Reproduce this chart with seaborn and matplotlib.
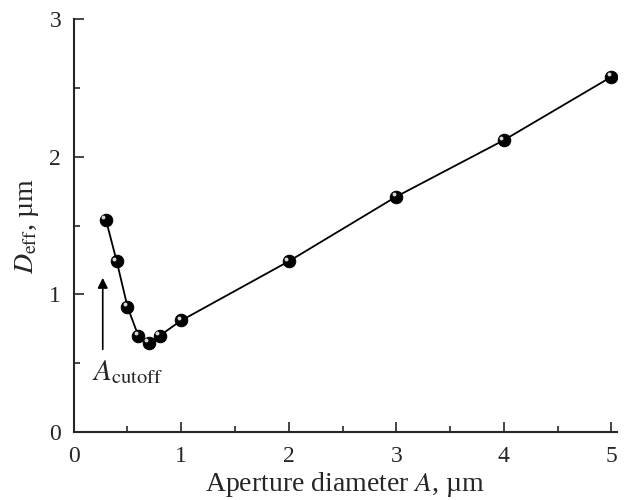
import numpy as np
import pandas as pd
import matplotlib
matplotlib.use('Agg')
import matplotlib.pyplot as plt
import matplotlib.transforms as mtransforms
import seaborn as sns

# datos
aperture = [0.3, 0.4, 0.5, 0.6, 0.7, 0.8, 1.0, 2.0, 3.0, 4.0, 5.0]
d_eff = [1.54, 1.24, 0.91, 0.70, 0.65, 0.70, 0.81, 1.24, 1.71, 2.12, 2.58]
x_ticks = [0, 1, 2, 3, 4, 5]
y_ticks = [0, 1, 2, 3]

sns.set_style('ticks')
plt.rcParams['font.family'] = ['Liberation Serif', 'DejaVu Serif']
plt.rcParams['mathtext.fontset'] = 'stix'
plt.rcParams['font.size'] = 17

df = pd.DataFrame({'A': aperture, 'D': d_eff})

fig = plt.figure(figsize=(6.3, 5), dpi=100)
ax = fig.add_axes([0.117, 0.136, 0.862, 0.826])

sns.lineplot(data=df, x='A', y='D', ax=ax, color='black', linewidth=1.3,
             marker='o', markersize=9, markerfacecolor='black',
             markeredgecolor='black')

# brillo de las esferas
offset = mtransforms.ScaledTranslation(-1.8 / 72, 1.8 / 72, fig.dpi_scale_trans)
ax.plot(df['A'], df['D'], linestyle='none', marker='o', markersize=2.8,
        color='#d8d8d8', markeredgewidth=0, transform=ax.transData + offset)

# flecha A_cutoff
ax.annotate('', xy=(0.27, 1.14), xytext=(0.27, 0.58),
            arrowprops=dict(arrowstyle='-|>', color='black', lw=1.2,
                            mutation_scale=15))
ax.text(0.17, 0.375, r'$A_{\rm cutoff}$', fontsize=21)

ax.set_xlim(0, 5.05)
ax.set_ylim(0, 3)
ax.set_xticks(x_ticks)
ax.set_yticks(y_ticks)
ax.set_xticks(np.arange(0.5, 5, 1.0), minor=True)
ax.set_yticks(np.arange(0.5, 3, 1.0), minor=True)
ax.tick_params(which='both', direction='in', width=1.2)
ax.tick_params(which='major', length=7, labelsize=17)
ax.tick_params(axis='x', which='major', pad=10)
ax.tick_params(axis='y', which='major', pad=9)
ax.tick_params(which='minor', length=4)
sns.despine(ax=ax)
for s in ['left', 'bottom']:
    ax.spines[s].set_linewidth(1.5)

ax.set_xlabel(r'Aperture diameter $A$, µm', fontsize=20, labelpad=2)
ax.set_ylabel(r'$D_{\rm eff}$, µm', fontsize=20, labelpad=6)

fig.savefig('out.png', dpi=100)
